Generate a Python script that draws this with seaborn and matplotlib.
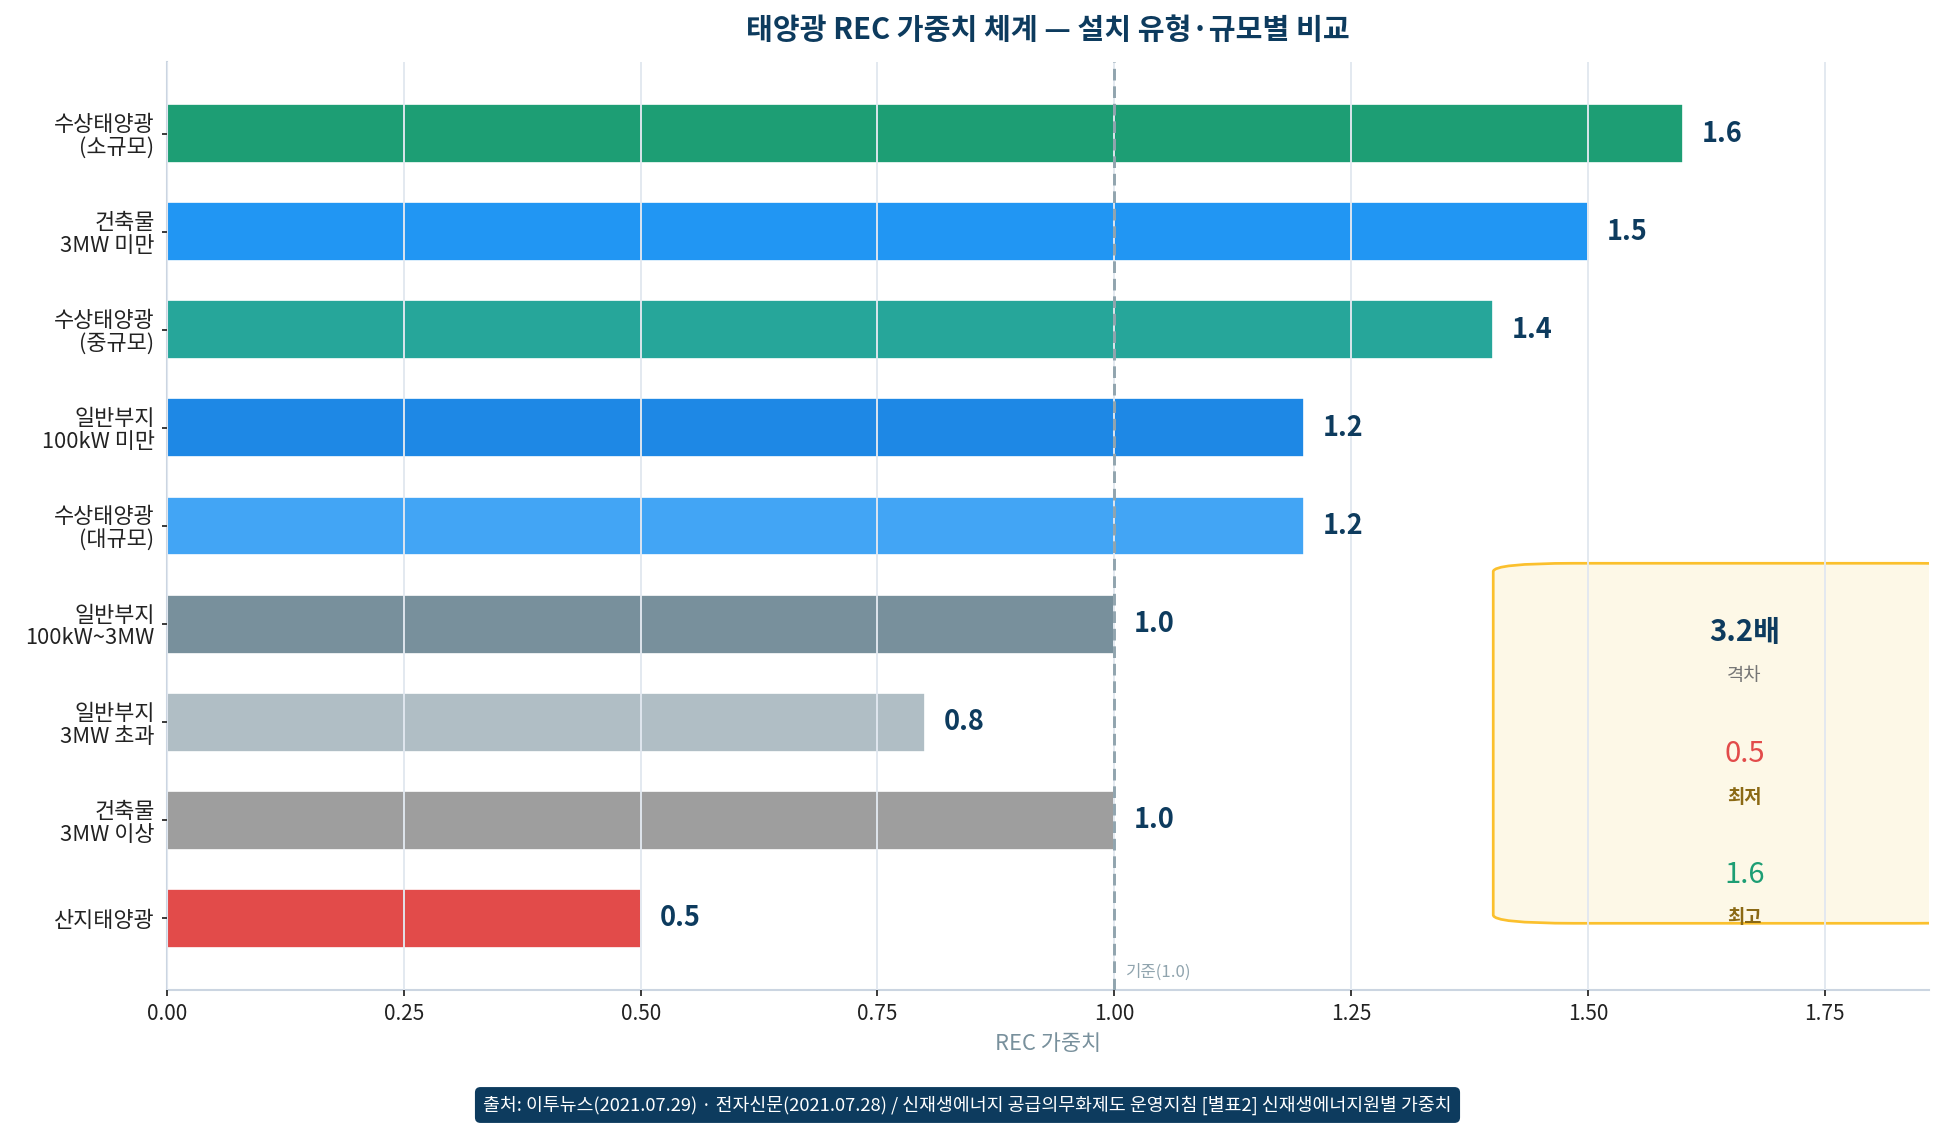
import numpy as np
import pandas as pd
import seaborn as sns
import matplotlib.pyplot as plt
from matplotlib.patches import FancyBboxPatch

# REC weights by installation type (top to bottom as drawn)
labels = ['수상태양광\n(소규모)', '건축물\n3MW 미만', '수상태양광\n(중규모)',
          '일반부지\n100kW 미만', '수상태양광\n(대규모)', '일반부지\n100kW~3MW',
          '일반부지\n3MW 초과', '건축물\n3MW 이상', '산지태양광']
weights = [1.6, 1.5, 1.4, 1.2, 1.2, 1.0, 0.8, 1.0, 0.5]
colors = ['#1D9E74', '#2196F3', '#26A69A', '#1E88E5', '#42A5F5',
          '#78909C', '#B0BEC5', '#9E9E9E', '#E24B4A']
baseline = 1.0

NAVY = '#0D3B5E'

sns.set_theme(style='ticks')
plt.rcParams['font.family'] = ['Noto Sans CJK KR', 'DejaVu Sans']
plt.rcParams['axes.unicode_minus'] = False

df = pd.DataFrame({'label': labels, 'weight': weights})

fig = plt.figure(figsize=(12.9, 1124 / 150), dpi=150)
ax = fig.add_axes([167 / 1935, 1 - 990 / 1124, (1929 - 167) / 1935, (990 - 62) / 1124])

sns.barplot(df, x='weight', y='label', hue='label', palette=colors, legend=False,
            orient='h', width=0.6, saturation=1, edgecolor='white', linewidth=0.8, ax=ax)

ax.set_xlim(0, 1.86)
ax.set_ylim(len(labels) - 1 + 0.73, -0.73)

# value labels
for i, v in enumerate(weights):
    ax.text(v + 0.02, i, f'{v:.1f}', va='center', ha='left', fontsize=13,
            fontweight='bold', color=NAVY)

# baseline
ax.axvline(baseline, color='#90A4AE', linestyle='--', linewidth=1.4, dashes=(4, 2), zorder=3)
ax.text(baseline + 0.012, 8.55, f'기준({baseline:.1f})', fontsize=8, color='#90A4AE',
        ha='left', va='center')

# summary box
lo, hi = min(weights), max(weights)
box = FancyBboxPatch((1.40, 4.38), 0.53, 3.67, boxstyle='round,pad=0,rounding_size=0.085',
                     facecolor='#FDF8E7', edgecolor='#FBC02D', linewidth=1.3)
ax.add_patch(box)
cx = 1.665
ax.text(cx, 5.08, f'{hi / lo:.1f}배', ha='center', va='center', fontsize=14,
        fontweight='bold', color=NAVY)
ax.text(cx, 5.52, '격차', ha='center', va='center', fontsize=9, color='#757575')
ax.text(cx, 6.32, f'{lo:.1f}', ha='center', va='center', fontsize=14, color='#E24B4A')
ax.text(cx, 6.77, '최저', ha='center', va='center', fontsize=9, fontweight='bold', color='#8B6914')
ax.text(cx, 7.56, f'{hi:.1f}', ha='center', va='center', fontsize=14, color='#1D9E74')
ax.text(cx, 7.99, '최고', ha='center', va='center', fontsize=9, fontweight='bold', color='#8B6914')

# axes styling
ax.grid(axis='x', color='#E2E8F0', linewidth=0.9)
ax.grid(axis='y', visible=False)
ax.set_axisbelow(False)
sns.despine(ax=ax)
for s in ['left', 'bottom']:
    ax.spines[s].set_color('#CBD5E1')
    ax.spines[s].set_linewidth(1.0)
ax.tick_params(axis='y', length=2.5, width=0.9, color='#333333', pad=3.5, labelsize=10.5,
               labelcolor='#222222')
ax.tick_params(axis='x', length=3, width=0.9, color='#333333', pad=3, labelsize=10,
               labelcolor='#222222')
for t in ax.get_yticklabels():
    t.set_linespacing(1.05)
ax.set_ylabel('')
ax.set_xlabel('REC 가중치', fontsize=10.5, color='#78909C', labelpad=4)
ax.set_title('태양광 REC 가중치 체계 — 설치 유형·규모별 비교', fontsize=14,
             fontweight='bold', color=NAVY, pad=11)

fig.text(0.5, 1 - 1105 / 1124,
         '출처: 이투뉴스(2021.07.29) · 전자신문(2021.07.28) / 신재생에너지 공급의무화제도 운영지침 [별표2] 신재생에너지원별 가중치',
         ha='center', va='center', fontsize=8.8, color='white',
         bbox=dict(boxstyle='round,pad=0.45,rounding_size=0.3', facecolor=NAVY, edgecolor='none'))

fig.savefig('out.png', dpi=150)
